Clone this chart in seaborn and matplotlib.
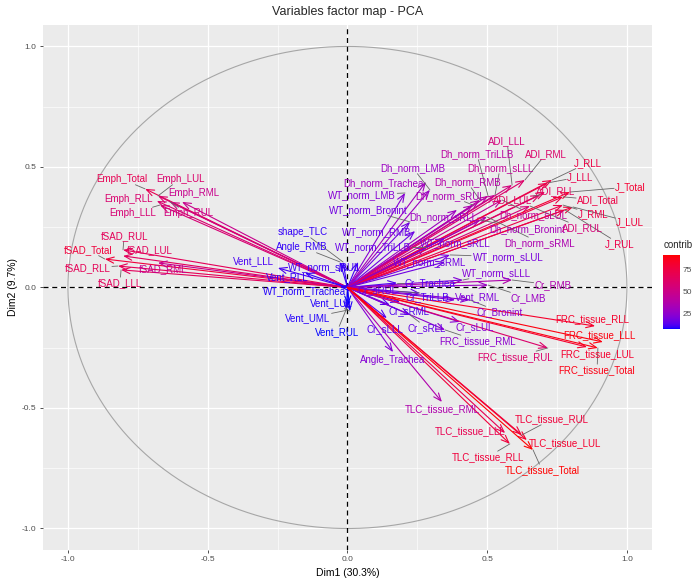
import numpy as np
import pandas as pd
import matplotlib
matplotlib.use("Agg")
import matplotlib.pyplot as plt
from matplotlib.patches import FancyArrowPatch
from matplotlib.colors import ListedColormap, Normalize
import matplotlib.colorbar as mcolorbar
import seaborn as sns

# ---- variable coordinates on the first two principal dimensions ----
variables = [
    "Emph_Total", "Emph_LUL", "Emph_RML", "Emph_RLL", "Emph_LLL", "Emph_RUL",
    "fSAD_RUL", "fSAD_Total", "fSAD_LUL", "fSAD_RLL", "fSAD_RML", "fSAD_LLL",
    "Vent_LLL", "Vent_RLL", "Vent_LUL", "Vent_UML", "Vent_RUL", "Vent_RML",
    "WT_norm_Trachea", "shape_TLC", "Angle_RMB", "WT_norm_RMB", "WT_norm_TriLLB",
    "WT_norm_sRUL", "WT_norm_LMB", "WT_norm_Bronint",
    "Dh_norm_Trachea", "Dh_norm_LMB", "Dh_norm_RMB", "Dh_norm_TriLLB", "Dh_norm_sLLL",
    "Dh_norm_sRUL", "Dh_norm_sRLL", "Dh_norm_sLUL", "Dh_norm_Bronint", "Dh_norm_sRML",
    "ADI_LLL", "ADI_RML", "ADI_RLL", "ADI_LUL", "ADI_Total", "ADI_RUL",
    "J_RLL", "J_LLL", "J_Total", "J_RML", "J_LUL", "J_RUL",
    "WT_norm_sRLL", "WT_norm_sRML", "WT_norm_sLUL", "WT_norm_sLLL",
    "Cr_Trachea", "Cr_sRUL", "Cr_TriLLB", "Cr_RMB", "Cr_LMB", "Cr_Bronint",
    "Cr_sRML", "Cr_sLLL", "Cr_sRLL", "Cr_sLUL", "Angle_Trachea",
    "FRC_tissue_RML", "FRC_tissue_RUL", "FRC_tissue_RLL", "FRC_tissue_LLL",
    "FRC_tissue_LUL", "FRC_tissue_Total",
    "TLC_tissue_RML", "TLC_tissue_RUL", "TLC_tissue_LLL", "TLC_tissue_LUL",
    "TLC_tissue_RLL", "TLC_tissue_Total",
]

dim1 = [
    -0.724, -0.678, -0.592, -0.682, -0.671, -0.635,
    -0.803, -0.868, -0.803, -0.821, -0.678, -0.810,
    -0.249, -0.152, 0.009, -0.004, 0.002, 0.385,
    -0.027, -0.016, -0.027, 0.242, 0.284,
    0.038, 0.206, 0.224,
    0.281, 0.295, 0.474, 0.503, 0.528,
    0.449, 0.392, 0.553, 0.474, 0.499,
    0.589, 0.635, 0.707, 0.689, 0.771, 0.653,
    0.732, 0.717, 0.796, 0.771, 0.807, 0.778,
    0.349, 0.349, 0.367, 0.413,
    0.177, 0.259, 0.188, 0.589, 0.503, 0.438,
    0.152, 0.141, 0.224, 0.402, 0.163,
    0.349, 0.717, 0.886, 0.914,
    0.857, 0.896,
    0.338, 0.624, 0.564, 0.642,
    0.581, 0.664,
]

dim2 = [
    0.409, 0.380, 0.355, 0.359, 0.342, 0.355,
    0.156, 0.118, 0.131, 0.089, 0.102, 0.073,
    0.081, 0.060, -0.098, -0.095, -0.073, -0.052,
    0.002, 0.106, 0.106, 0.234, 0.168,
    0.106, 0.392, 0.272,
    0.438, 0.405, 0.363, 0.380, 0.384,
    0.342, 0.322, 0.363, 0.280, 0.293,
    0.425, 0.446, 0.396, 0.384, 0.376, 0.338,
    0.446, 0.434, 0.396, 0.342, 0.334, 0.322,
    0.205, 0.106, 0.135, 0.031,
    0.019, -0.023, -0.060, 0.031, 0.010, -0.052,
    -0.073, -0.127, -0.114, -0.143, -0.268,
    -0.176, -0.251, -0.160, -0.226,
    -0.247, -0.251,
    -0.475, -0.612, -0.604, -0.633,
    -0.649, -0.674,
]

contrib = [
    69, 60, 48, 59, 57, 53,
    67, 77, 66, 68, 47, 66,
    11, 9, 8, 8, 7, 20,
    8, 9, 9, 16, 15,
    10, 22, 17,
    30, 28, 38, 41, 44,
    34, 29, 45, 32, 35,
    54, 61, 66, 63, 74, 56,
    74, 71, 80, 72, 77, 72,
    20, 17, 19, 21,
    12, 14, 12, 36, 28, 23,
    12, 13, 15, 22, 22,
    24, 60, 82, 89,
    81, 88,
    36, 77, 70, 81,
    77, 91,
]

dim1_label = "Dim1 (30.3%)"
dim2_label = "Dim2 (9.7%)"
title = "Variables factor map - PCA"

df = pd.DataFrame({"name": variables, "dim1": dim1, "dim2": dim2, "contrib": contrib})

# ---- label placement (data coordinates), repelled away from the arrow tips ----
label_pos = {
    "Emph_Total": (-0.807, 0.450), "Emph_LUL": (-0.599, 0.450), "Emph_RML": (-0.549, 0.392),
    "Emph_RLL": (-0.785, 0.367), "Emph_LLL": (-0.767, 0.309), "Emph_RUL": (-0.571, 0.309),
    "fSAD_RUL": (-0.799, 0.214), "fSAD_Total": (-0.928, 0.156), "fSAD_LUL": (-0.707, 0.156),
    "fSAD_RLL": (-0.928, 0.081), "fSAD_RML": (-0.660, 0.077), "fSAD_LLL": (-0.814, 0.019),
    "Vent_LLL": (-0.338, 0.110), "Vent_RLL": (-0.215, 0.045), "Vent_LUL": (-0.059, -0.064),
    "Vent_UML": (-0.141, -0.127), "Vent_RUL": (-0.038, -0.185), "Vent_RML": (0.467, -0.039),
    "WT_norm_Trachea": (-0.152, -0.015), "shape_TLC": (-0.159, 0.230),
    "Angle_RMB": (-0.163, 0.168), "WT_norm_RMB": (0.106, 0.230),
    "WT_norm_TriLLB": (0.091, 0.168), "WT_norm_sRUL": (-0.085, 0.083),
    "WT_norm_LMB": (0.052, 0.384), "WT_norm_Bronint": (0.073, 0.322),
    "Dh_norm_Trachea": (0.127, 0.434), "Dh_norm_LMB": (0.234, 0.496),
    "Dh_norm_RMB": (0.428, 0.438), "Dh_norm_TriLLB": (0.463, 0.554),
    "Dh_norm_sLLL": (0.546, 0.496), "Dh_norm_sRUL": (0.367, 0.380),
    "Dh_norm_sRLL": (0.342, 0.293), "Dh_norm_sLUL": (0.664, 0.301),
    "Dh_norm_Bronint": (0.642, 0.243), "Dh_norm_sRML": (0.689, 0.185),
    "ADI_LLL": (0.571, 0.608), "ADI_RML": (0.710, 0.554), "ADI_RLL": (0.746, 0.400),
    "ADI_LUL": (0.592, 0.363), "ADI_Total": (0.896, 0.363), "ADI_RUL": (0.839, 0.247),
    "J_RLL": (0.860, 0.517), "J_LLL": (0.832, 0.459), "J_Total": (1.011, 0.417),
    "J_RML": (0.878, 0.305), "J_LUL": (1.011, 0.272), "J_RUL": (0.975, 0.180),
    "WT_norm_sRLL": (0.385, 0.185), "WT_norm_sRML": (0.295, 0.106),
    "WT_norm_sLUL": (0.574, 0.127), "WT_norm_sLLL": (0.535, 0.060),
    "Cr_Trachea": (0.295, 0.019), "Cr_sRUL": (0.109, -0.010), "Cr_TriLLB": (0.284, -0.039),
    "Cr_RMB": (0.735, 0.010), "Cr_LMB": (0.646, -0.044), "Cr_Bronint": (0.546, -0.102),
    "Cr_sRML": (0.220, -0.098), "Cr_sLLL": (0.134, -0.172), "Cr_sRLL": (0.284, -0.168),
    "Cr_sLUL": (0.456, -0.164), "Angle_Trachea": (0.163, -0.301),
    "FRC_tissue_RML": (0.467, -0.222), "FRC_tissue_RUL": (0.599, -0.288),
    "FRC_tissue_RLL": (0.875, -0.131), "FRC_tissue_LLL": (0.903, -0.197),
    "FRC_tissue_LUL": (0.893, -0.276), "FRC_tissue_Total": (0.893, -0.342),
    "TLC_tissue_RML": (0.338, -0.504), "TLC_tissue_RUL": (0.732, -0.546),
    "TLC_tissue_LLL": (0.438, -0.595), "TLC_tissue_LUL": (0.778, -0.645),
    "TLC_tissue_RLL": (0.503, -0.703), "TLC_tissue_Total": (0.696, -0.757),
}


# ---- blue -> red gradient interpolated in CIE Lab ----
_M = np.array([[0.4124, 0.3576, 0.1805], [0.2126, 0.7152, 0.0722], [0.0193, 0.1192, 0.9505]])
_WP = _M @ np.ones(3)


def _srgb_to_lab(rgb):
    c = np.asarray(rgb, dtype=float)
    lin = np.where(c <= 0.04045, c / 12.92, ((c + 0.055) / 1.055) ** 2.4)
    t = (_M @ lin) / _WP
    d = 6 / 29
    f = np.where(t > d ** 3, np.cbrt(t), t / (3 * d * d) + 4 / 29)
    return np.array([116 * f[1] - 16, 500 * (f[0] - f[1]), 200 * (f[1] - f[2])])


def _lab_to_srgb(lab):
    L, a, b = lab
    fy = (L + 16) / 116
    f = np.array([fy + a / 500, fy, fy - b / 200])
    d = 6 / 29
    t = np.where(f > d, f ** 3, 3 * d * d * (f - 4 / 29))
    lin = np.clip(np.linalg.solve(_M, t * _WP), 0, 1)
    c = np.where(lin <= 0.0031308, 12.92 * lin, 1.055 * lin ** (1 / 2.4) - 0.055)
    return np.clip(c, 0, 1)


lab_lo = _srgb_to_lab([0, 0, 1])
lab_hi = _srgb_to_lab([1, 0, 0])
grad = [_lab_to_srgb(lab_lo + (lab_hi - lab_lo) * s) for s in np.linspace(0, 1, 256)]
cmap = ListedColormap(grad)
norm = Normalize(vmin=min(contrib), vmax=max(contrib))

# ---- theme ----
sns.set_theme(style="darkgrid", rc={
    "axes.facecolor": "#EBEBEB",
    "grid.color": "white",
    "axes.edgecolor": "#EBEBEB",
    "xtick.color": "#4D4D4D",
    "ytick.color": "#4D4D4D",
})
plt.rcParams["font.family"] = ["Liberation Sans", "DejaVu Sans"]

W, H = 695, 584
fig = plt.figure(figsize=(W / 100, H / 100), dpi=100)
ax = fig.add_axes([0.0616, 0.0579, 0.8767, 0.8997])
lim = 1.09
ax.set_xlim(-lim, lim)
ax.set_ylim(-lim, lim)

major = [-1.0, -0.5, 0.0, 0.5, 1.0]
minor = [-0.75, -0.25, 0.25, 0.75]
ax.set_xticks(major)
ax.set_yticks(major)
ax.set_xticklabels([f"{v:.1f}" for v in major])
ax.set_yticklabels([f"{v:.1f}" for v in major])
ax.set_xticks(minor, minor=True)
ax.set_yticks(minor, minor=True)
ax.grid(which="major", color="white", lw=0.9)
ax.grid(which="minor", color="white", lw=0.45)
ax.tick_params(which="major", length=2.5, width=0.6, labelsize=6, pad=2,
               color="#333333", labelcolor="#4D4D4D", bottom=True, left=True)
ax.tick_params(which="minor", length=0)
for s in ax.spines.values():
    s.set_visible(False)

# correlation circle
theta = np.linspace(0, 2 * np.pi, 400)
circle = pd.DataFrame({"x": np.cos(theta), "y": np.sin(theta)})
sns.lineplot(data=circle, x="x", y="y", sort=False, estimator=None, color="#A6A6A6",
             lw=0.8, ax=ax, zorder=2)

ax.axhline(0, color="black", lw=0.9, ls=(0, (4, 3)), zorder=3)
ax.axvline(0, color="black", lw=0.9, ls=(0, (4, 3)), zorder=3)

colors = {r.name: cmap(norm(r.contrib)) for r in df.itertuples()}

for r in df.itertuples():
    arr = FancyArrowPatch((0, 0), (r.dim1, r.dim2),
                          arrowstyle="->,head_length=0.55,head_width=0.22",
                          mutation_scale=10, color=colors[r.name], lw=0.8,
                          shrinkA=0, shrinkB=0, zorder=4)
    ax.add_patch(arr)

texts = {}
for r in df.itertuples():
    lx, ly = label_pos[r.name]
    texts[r.name] = ax.text(lx, ly, r.name, color=colors[r.name], fontsize=7,
                            ha="center", va="center", zorder=6)

ax.set_xlabel(dim1_label, fontsize=7.5, color="black", labelpad=3)
ax.set_ylabel(dim2_label, fontsize=7.5, color="black", labelpad=3)
fig.text(0.5, 1 - 12 / H, title, ha="center", va="center", fontsize=9)

# leader segments from each label box to its arrow tip
fig.canvas.draw()
renderer = fig.canvas.get_renderer()
inv = ax.transData.inverted()
for r in df.itertuples():
    bb = texts[r.name].get_window_extent(renderer).expanded(1.04, 1.15)
    tx, ty = ax.transData.transform((r.dim1, r.dim2))
    cx, cy = (bb.x0 + bb.x1) / 2, (bb.y0 + bb.y1) / 2
    dx, dy = tx - cx, ty - cy
    if bb.x0 <= tx <= bb.x1 and bb.y0 <= ty <= bb.y1:
        continue
    sx = (bb.width / 2) / abs(dx) if dx != 0 else np.inf
    sy = (bb.height / 2) / abs(dy) if dy != 0 else np.inf
    s = min(sx, sy)
    ex, ey = cx + dx * s, cy + dy * s
    if np.hypot(tx - ex, ty - ey) < 6:
        continue
    p0 = inv.transform((ex, ey))
    ax.plot([p0[0], r.dim1], [p0[1], r.dim2], color="#666666", lw=0.6, zorder=5)

# colour bar legend
cax = fig.add_axes([663 / W, 1 - 329 / H, 17 / W, 74 / H])
cb = mcolorbar.ColorbarBase(cax, cmap=cmap, norm=norm, orientation="vertical")
cb.outline.set_visible(False)
cb.set_ticks([25, 50, 75])
cax.tick_params(length=3, width=0.6, color="white", labelsize=6, labelcolor="#4D4D4D", pad=2,
                direction="in")
fig.text(678 / W, 1 - 245 / H, "contrib", ha="center", va="center", fontsize=7)

fig.savefig("out.png", dpi=100)
